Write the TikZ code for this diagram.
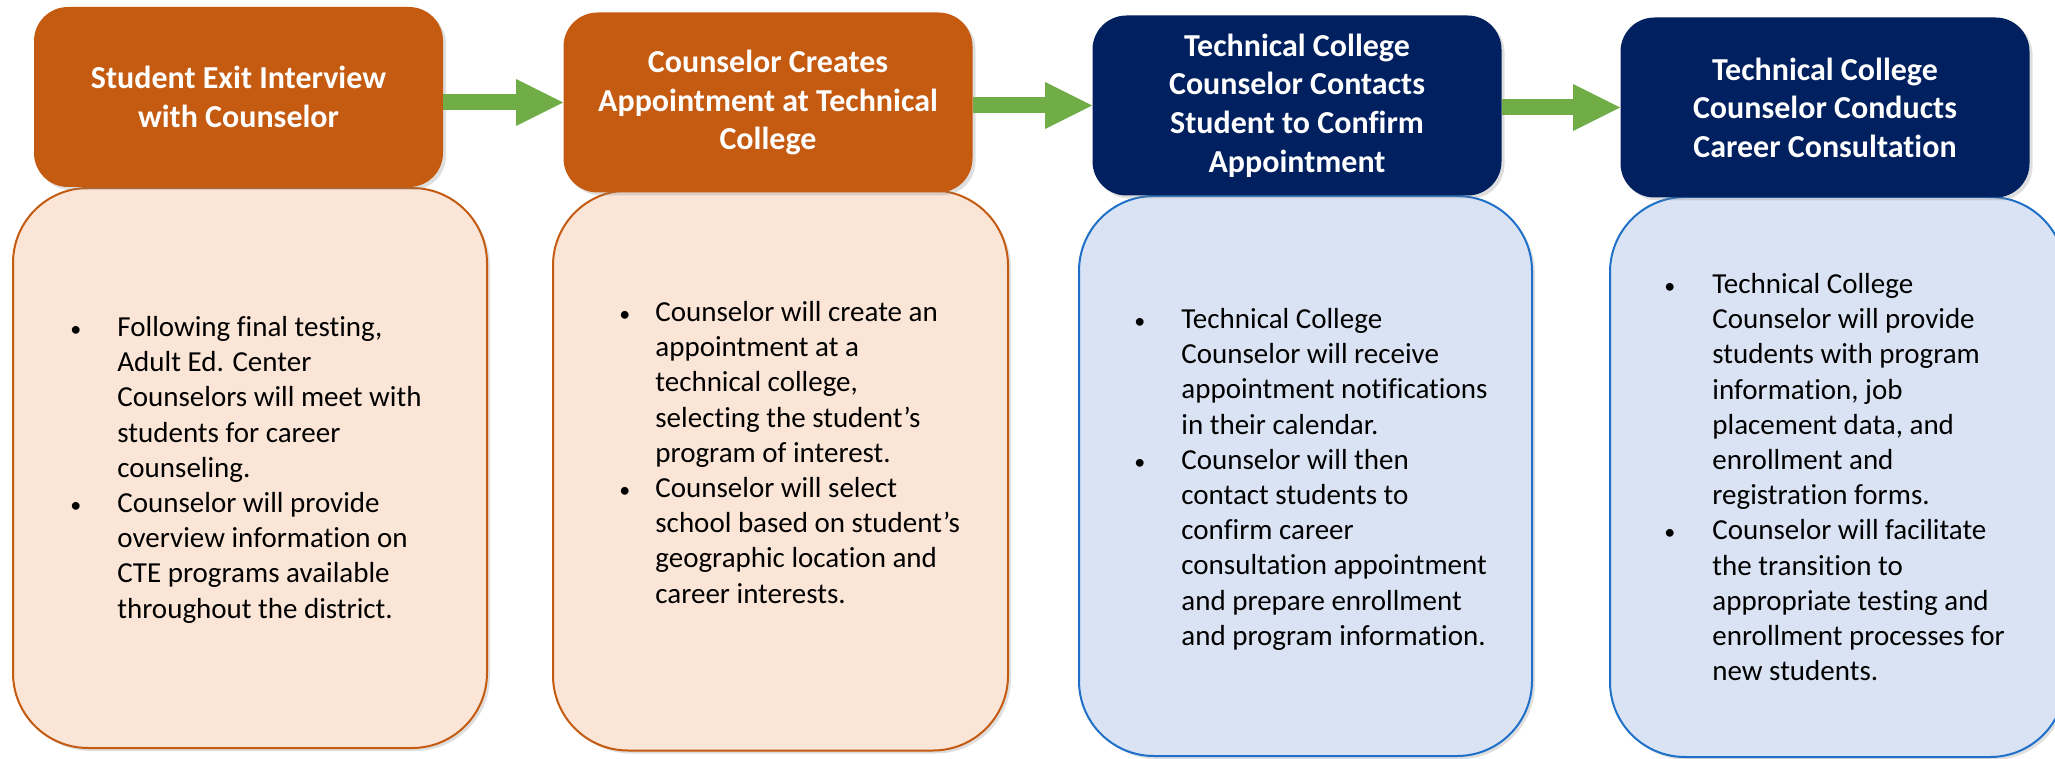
\documentclass[tikz,border=0pt]{standalone}
\usepackage{fontspec}
\setmainfont{Carlito}[Ligatures=NoCommon]
\usetikzlibrary{arrows.meta,shadows}
\definecolor{rust}{HTML}{C55A11}
\definecolor{peach}{HTML}{FBE5D6}
\definecolor{navy}{HTML}{002060}
\definecolor{paleblue}{HTML}{DAE3F3}
\definecolor{midblue}{HTML}{1F70C8}
\definecolor{leaf}{HTML}{70AD47}
\newcommand{\dotmark}{{\fontsize{11pt}{11pt}\selectfont\textbullet}}
\tikzset{
  headbox/.style={rounded corners=17pt,text=white,align=center,inner sep=0pt,
    minimum width=204.5pt,minimum height=90pt,
    font=\bfseries\fontsize{16pt}{19.3pt}\selectfont,
    drop shadow={opacity=0.25,shadow xshift=1.5pt,shadow yshift=-1.5pt}},
  cardbox/.style={rounded corners=37.5pt,line width=1pt,inner sep=0pt,minimum height=280pt,
    drop shadow={opacity=0.25,shadow xshift=1.5pt,shadow yshift=-1.5pt}},
  bullets/.style={anchor=north west,inner sep=0pt,font=\fontsize{14.5pt}{17.6pt}\selectfont},
  flow/.style={leaf,line width=8pt,-{Triangle[length=23.5pt,width=23.5pt,line width=0pt]}}
}
\begin{document}
\begin{tikzpicture}[x=0.5pt,y=-0.5pt]
	\useasboundingbox (0,0) rectangle (2055,759);
	\clip (0,0) rectangle (2055,759);
	% detail cards
	\node[cardbox,draw=rust,fill=peach,minimum width=237pt] (b1) at (250,468) {};
	\node[cardbox,draw=rust,fill=peach,minimum width=227.5pt] (b2) at (780.5,470.5) {};
	\node[cardbox,draw=midblue,fill=paleblue,minimum width=226.5pt] (b3) at (1305.5,476) {};
	\node[cardbox,draw=midblue,fill=paleblue,minimum width=227.5pt] (b4) at (1837.5,477) {};
	% step headers
	\node[headbox,fill=rust] (h1) at (238.5,97) {Student Exit Interview\\with Counselor};
	\node[headbox,fill=rust] (h2) at (768,102.5) {Counselor Creates\\Appointment at Technical\\College};
	\node[headbox,fill=navy] (h3) at (1297,105.5) {Technical College\\Counselor Contacts\\Student to Confirm\\Appointment};
	\node[headbox,fill=navy] (h4) at (1825,107.5) {Technical College\\Counselor Conducts\\Career Consultation};
	\foreach \a/\b in {h1/h2,h2/h3,h3/h4}\draw[flow] (\a.east |- \b.west) -- (\b.west);
	% bullet texts
	\node[bullets] (t1) at (70,311.4) {\begin{tabular}{@{}p{23.5pt}@{}l@{}}
		\dotmark & Following final testing,\\
		& Adult Ed. Center\\
		& Counselors will meet with\\
		& students for career\\
		& counseling.\\
		\dotmark & Counselor will provide\\
		& overview information on\\
		& CTE programs available\\
		& throughout the district.
	\end{tabular}};
	\node[bullets] (t2) at (619,296.4) {\begin{tabular}{@{}p{18pt}@{}l@{}}
		\dotmark & Counselor will create an\\
		& appointment at a\\
		& technical college,\\
		& selecting the student’s\\
		& program of interest.\\
		\dotmark & Counselor will select\\
		& school based on student’s\\
		& geographic location and\\
		& career interests.
	\end{tabular}};
	\node[bullets] (t3) at (1134,303.4) {\begin{tabular}{@{}p{23.5pt}@{}l@{}}
		\dotmark & Technical College\\
		& Counselor will receive\\
		& appointment notifications\\
		& in their calendar.\\
		\dotmark & Counselor will then\\
		& contact students to\\
		& confirm career\\
		& consultation appointment\\
		& and prepare enrollment\\
		& and program information.
	\end{tabular}};
	\node[bullets] (t4) at (1664,268.4) {\begin{tabular}{@{}p{24pt}@{}l@{}}
		\dotmark & Technical College\\
		& Counselor will provide\\
		& students with program\\
		& information, job\\
		& placement data, and\\
		& enrollment and\\
		& registration forms.\\
		\dotmark & Counselor will facilitate\\
		& the transition to\\
		& appropriate testing and\\
		& enrollment processes for\\
		& new students.
	\end{tabular}};
\end{tikzpicture}
\end{document}
